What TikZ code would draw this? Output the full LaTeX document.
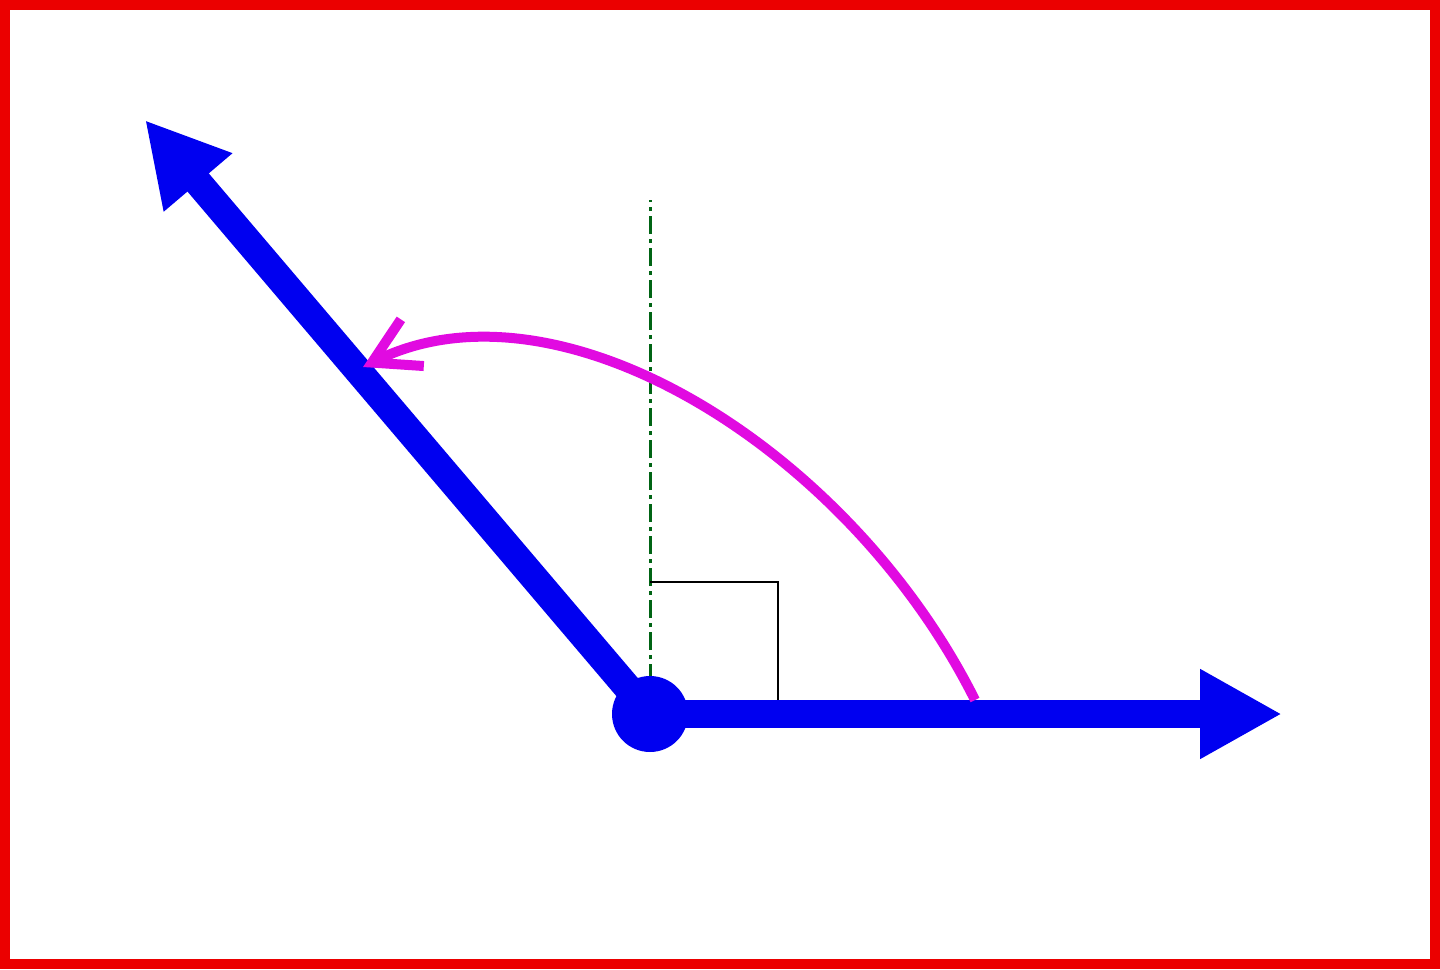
\documentclass[tikz,border=0pt]{standalone}
\usepackage{tikz}
\usetikzlibrary{calc,arrows.meta}
\definecolor{rayblue}{RGB}{0,0,240}
\definecolor{turnpink}{RGB}{225,10,225}
\definecolor{axisgreen}{RGB}{0,100,20}
\definecolor{framered}{RGB}{235,0,0}

\begin{document}
\begin{tikzpicture}[
		ray/.style={draw=rayblue,line width=0.28cm,-{Triangle[length=0.82cm,width=0.84cm]}},
		turn/.style={draw=turnpink,line width=0.1cm,-{Straight Barb[length=0.45cm,width=0.52cm]}},
		normal/.style={draw=axisgreen,line width=0.03cm,dash pattern=on 0.18cm off 0.05cm on 0.04cm off 0.05cm}]
					\useasboundingbox (0,0) rectangle (14.4,9.69);
					%FRAME
					\draw[framered,line width=0.1cm] (0.05,0.05) rectangle (14.35,9.64);
					%POINTS
					\coordinate (O) at (6.50,2.55);
					\coordinate (R) at (12.82,2.55);
					\coordinate (L) at (1.45,8.49);
					\coordinate (N) at (6.50,7.69);
					\coordinate (S) at (9.75,2.69);
					\coordinate (E) at (3.63,6.02);
					%NORMAL AND RIGHT ANGLE
					\draw[normal] (O) -- (N);
					\draw[black,line width=0.02cm] (6.50,3.87) -- (7.78,3.87) -- (7.78,2.55);
					%RAYS
					\draw[ray] (O) -- (R);
					\draw[ray] (O) -- (L);
					\fill[rayblue] (O) circle (0.38);
					%TURN
					\draw[turn] (S) .. controls (8.50,5.19) and (5.60,6.99) .. (E);
	  \end{tikzpicture}
\end{document}
